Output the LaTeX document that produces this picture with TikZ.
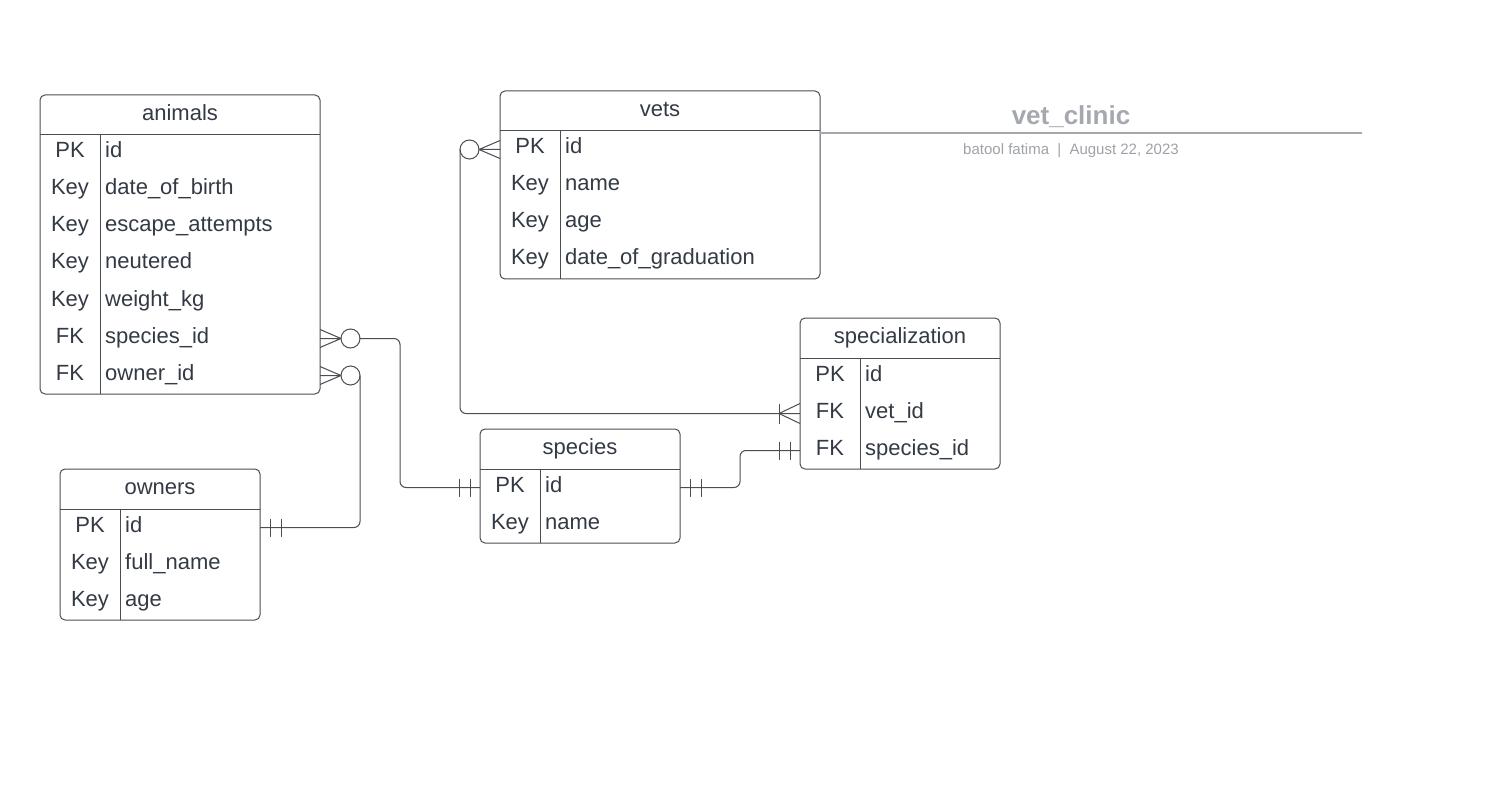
\documentclass[tikz,border=0pt]{standalone}
\usepackage{fontspec}
\setmainfont{Liberation Sans}
\usetikzlibrary{calc}
\definecolor{ink}{HTML}{333A44}
\definecolor{edge}{HTML}{4A4D52}
\definecolor{ttl}{HTML}{A5A9AF}
\definecolor{sub}{HTML}{9EA2A8}
\tikzset{
  tbl/.style={draw=edge, line width=1pt},
  conn/.style={draw=edge, line width=1pt},
  rowbox/.style={inner sep=0pt, outer sep=0pt, minimum height=37pt},
  txt/.style={font=\fontsize{22}{22}\selectfont, text=ink, inner sep=0pt},
}
% #1 name, #2 x1, #3 ytop, #4 x2, #5 ybottom, #6 divider x, #7 title, #8 rows
\newcommand\ertab[8]{%
  \draw[tbl, rounded corners=5pt] (#2,#3) rectangle (#4,#5);
  \draw[tbl] (#2,#3+40) -- (#4,#3+40) (#6,#3+40) -- (#6,#5);
  \node[txt, anchor=base] (#1-title) at ({(#2+#4)/2},{#3+25.5}) {#7};
  \foreach \k/\f [count=\i] in {#8} {
    \pgfmathsetmacro{\yc}{#3+40+37*(\i-1)+18.5}
    \node[rowbox, minimum width={#4-#2}] (#1-\i) at ({(#2+#4)/2},\yc) {};
    \node[txt, anchor=base] (#1-k\i) at ({(#2+#6)/2},\yc+4.5) {\k};
    \node[txt, anchor=base west] (#1-f\i) at (#6+5,\yc+4.5) {\f};
  }
}
% zero-or-many: #1 point, #2 direction (+1 to the right, -1 to the left)
\newcommand\zeromany[2]{%
  \draw[conn] ($(#1)+(#2*21,0)$) -- ($(#1)+(0,-9)$)
              ($(#1)+(#2*21,0)$) -- (#1)
              ($(#1)+(#2*21,0)$) -- ($(#1)+(0,9)$);
  \draw[conn] ($(#1)+(#2*30.5,0)$) circle (9.5pt);
}
% one-and-only-one: #1 point, #2 direction
\newcommand\oneone[2]{%
  \draw[conn] ($(#1)+(#2*10,-9)$) -- ($(#1)+(#2*10,9)$)
              ($(#1)+(#2*21,-9)$) -- ($(#1)+(#2*21,9)$);
}
% one-or-many: #1 point, #2 direction
\newcommand\onemany[2]{%
  \draw[conn] ($(#1)+(#2*21,0)$) -- ($(#1)+(0,-10)$)
              ($(#1)+(#2*21,0)$) -- ($(#1)+(0,10)$);
  \draw[conn] ($(#1)+(#2*21,-10)$) -- ($(#1)+(#2*21,10)$);
}
\begin{document}
\begin{tikzpicture}[x=1pt,y=-1pt]
\useasboundingbox (0,0) rectangle (1508,805);

\ertab{animals}{40}{95}{320}{394}{100}{animals}{PK/id, Key/date\_of\_birth, Key/escape\_attempts, Key/neutered, Key/weight\_kg, FK/species\_id, FK/owner\_id}
\ertab{vets}{500}{91}{820}{279}{560}{vets}{PK/id, Key/name, Key/age, Key/date\_of\_graduation}
\ertab{spec}{800}{318}{1000}{469}{860}{specialization}{PK/id, FK/vet\_id, FK/species\_id}
\ertab{species}{480}{429}{680}{543}{540}{species}{PK/id, Key/name}
\ertab{owners}{60}{469}{260}{620}{120}{owners}{PK/id, Key/full\_name, Key/age}

% animals.species_id -> species.id
\zeromany{animals-6.east}{1}
\draw[conn, rounded corners=6pt] ($(animals-6.east)+(39.5,0)$) -- ++(40.5,0) |- (species-1.west);
\oneone{species-1.west}{-1}

% animals.owner_id -> owners.id
\zeromany{animals-7.east}{1}
\draw[conn, rounded corners=6pt] ($(animals-7.east)+(40,0)$) |- (owners-1.east);
\oneone{owners-1.east}{1}

% vets.id -> specialization.vet_id
\zeromany{vets-1.west}{-1}
\draw[conn, rounded corners=6pt] ($(vets-1.west)+(-40,0)$) |- (spec-2.west);
\onemany{spec-2.west}{-1}

% species.id -> specialization.species_id
\oneone{species-1.east}{1}
\draw[conn, rounded corners=6pt] (species-1.east) -- ++(60,0) |- (spec-3.west);
\oneone{spec-3.west}{-1}

% title block
\node[font=\fontsize{26}{26}\selectfont\bfseries, text=ttl, inner sep=0pt, anchor=base] (title) at (1071,125) {vet\_clinic};
\draw[draw=ttl, line width=2pt] (820,133) -- (1362,133);
\node[font=\fontsize{15}{15}\selectfont, text=sub, inner sep=0pt, anchor=base] (subtitle) at (1071,155) {batool fatima\hspace{0.55em}|\hspace{0.55em}August 22, 2023};
\end{tikzpicture}
\end{document}
